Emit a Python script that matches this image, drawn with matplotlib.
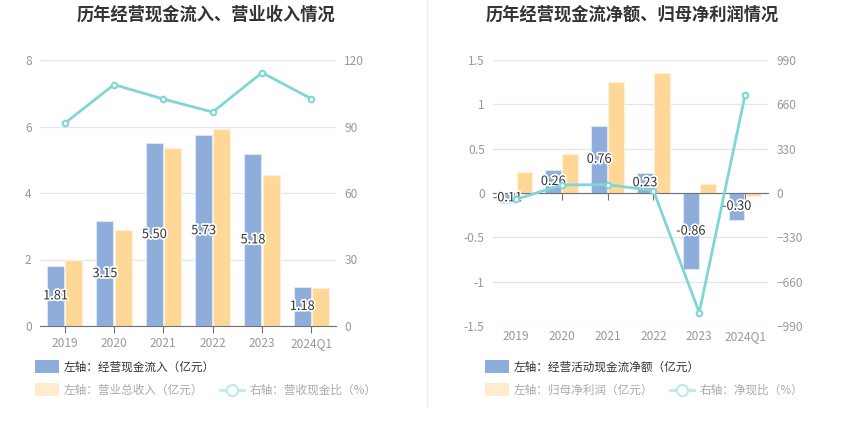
import matplotlib
matplotlib.use("Agg")
import matplotlib.pyplot as plt
import matplotlib.patheffects as pe
from matplotlib.patches import Rectangle
from matplotlib.lines import Line2D

plt.rcParams['font.family'] = ['Noto Sans CJK SC', 'DejaVu Sans']

categories = ["2019", "2020", "2021", "2022", "2023", "2024Q1"]

# Left chart
cash_inflow = [1.81, 3.15, 5.50, 5.73, 5.18, 1.18]
revenue = [1.98, 2.89, 5.36, 5.92, 4.54, 1.15]
cash_ratio = [91.4, 108.9, 102.4, 96.5, 114.3, 102.5]

# Right chart
net_cash = [-0.11, 0.26, 0.76, 0.23, -0.86, -0.30]
net_profit = [0.232, 0.44, 1.25, 1.35, 0.105, -0.038]
net_ratio = [-48, 60, 62, 18, -890, 730]

left_ticks = [0, 2, 4, 6, 8]
left_right_ticks = [0, 30, 60, 90, 120]
right_ticks = [-1.5, -1, -0.5, 0, 0.5, 1, 1.5]
right_tick_labels = ["-1.5", "-1", "-0.5", "0", "0.5", "1", "1.5"]
right_right_ticks = [-990, -660, -330, 0, 330, 660, 990]

titles = ["历年经营现金流入、营业收入情况", "历年经营现金流净额、归母净利润情况"]
legend_left = ["左轴：经营现金流入（亿元）", "左轴：营业总收入（亿元）", "右轴：营收现金比（%）"]
legend_right = ["左轴：经营活动现金流净额（亿元）", "左轴：归母净利润（亿元）", "右轴：净现比（%）"]

BLUE = "#8eaddb"
ORANGE = "#ffd898"
LINE = "#80d5d9"
GRID = "#e0e6f1"
AXIS = "#6e7079"
TICK = "#999999"

W, H = 850, 437
fig = plt.figure(figsize=(W / 100, H / 100), dpi=100)

def fx(px):
    return px / W

def fy(py):
    return 1 - py / H

ax1 = fig.add_axes([fx(40), fy(326), fx(296), (326 - 60) / H])
ax2 = fig.add_axes([fx(493), fy(326), fx(275), (326 - 60) / H])

bw = 0.34
gap = 0.03
label_fx = [pe.withStroke(linewidth=2.5, foreground="white")]

def style_axes(ax):
    for s in ["top", "right", "left"]:
        ax.spines[s].set_visible(False)
    ax.tick_params(axis="y", length=0, labelsize=8.6, labelcolor=TICK, pad=6)
    ax.grid(axis="y", color=GRID, linewidth=0.9)
    ax.set_axisbelow(True)

x = list(range(len(categories)))

# ---- left chart
style_axes(ax1)
xb = [i - bw / 2 - gap / 2 for i in x]
xo = [i + bw / 2 + gap / 2 for i in x]
ax1.bar(xb, cash_inflow, width=bw, color=BLUE, edgecolor="#dce6f5", linewidth=0.8, zorder=2)
ax1.bar(xo, revenue, width=bw, color=ORANGE, edgecolor="#fff0d6", linewidth=0.8, zorder=2)
for xi, v in zip(xb, cash_inflow):
    ax1.text(xi, v / 2, f"{v:.2f}", ha="center", va="center", fontsize=9.2, color="#333333",
             path_effects=label_fx, zorder=5)
ax1.set_ylim(0, 8)
ax1.set_yticks(left_ticks)
ax1.set_yticklabels([str(t) for t in left_ticks])
ax1.set_xlim(-0.5, len(categories) - 0.5)
ax1.set_xticks(x)
ax1.set_xticklabels(categories)
ax1.spines["bottom"].set_color(AXIS)
ax1.tick_params(axis="x", length=5, color=AXIS, labelsize=8.6, labelcolor=TICK, pad=3)
ax1r = ax1.twinx()
ax1r.plot(x, cash_ratio, color=LINE, linewidth=2, marker="o", markersize=4,
          markerfacecolor="white", markeredgecolor=LINE, markeredgewidth=1.5, zorder=4)
ax1r.set_ylim(0, 120)
ax1r.set_yticks(left_right_ticks)
for s in ["top", "right", "left", "bottom"]:
    ax1r.spines[s].set_visible(False)
ax1r.tick_params(axis="y", length=0, labelsize=8.6, labelcolor=TICK, pad=6)

# ---- right chart
style_axes(ax2)
ax2.bar(xb, net_cash, width=bw, color=BLUE, edgecolor="#dce6f5", linewidth=0.8, zorder=2)
ax2.bar(xo, net_profit, width=bw, color=ORANGE, edgecolor="#fff0d6", linewidth=0.8, zorder=2)
for xi, v in zip(xb, net_cash):
    ax2.text(xi, v / 2, f"{v:.2f}", ha="center", va="center", fontsize=9.2, color="#333333",
             path_effects=label_fx, zorder=5)
ax2.set_ylim(-1.5, 1.5)
ax2.set_yticks(right_ticks)
ax2.set_yticklabels(right_tick_labels)
ax2.set_xlim(-0.5, len(categories) - 0.5)
ax2.spines["bottom"].set_position(("data", 0))
ax2.spines["bottom"].set_color(AXIS)
ax2.set_xticks(x)
ax2.tick_params(axis="x", length=5, color=AXIS, labelbottom=False)
for i, c in zip(x, categories):
    ax2.annotate(c, xy=(i, 0), xycoords=ax2.get_xaxis_transform(), xytext=(0, -3),
                 textcoords="offset points", ha="center", va="top", fontsize=8.6, color=TICK)
ax2r = ax2.twinx()
ax2r.plot(x, net_ratio, color=LINE, linewidth=2, marker="o", markersize=4,
          markerfacecolor="white", markeredgecolor=LINE, markeredgewidth=1.5, zorder=4)
ax2r.set_ylim(-990, 990)
ax2r.set_yticks(right_right_ticks)
for s in ["top", "right", "left", "bottom"]:
    ax2r.spines[s].set_visible(False)
ax2r.tick_params(axis="y", length=0, labelsize=8.6, labelcolor=TICK, pad=6)
ax2r.set_zorder(ax2.get_zorder() + 1)
ax1r.set_zorder(ax1.get_zorder() + 1)

# titles
fig.text(fx(206), fy(15), titles[0], ha="center", va="center", fontsize=12.4,
         fontweight="bold", color="#333333")
fig.text(fx(632), fy(15), titles[1], ha="center", va="center", fontsize=12.4,
         fontweight="bold", color="#333333")

# separator
fig.add_artist(Line2D([fx(427), fx(427)], [fy(0), fy(407)], color="#eeeeee", linewidth=1))

# legends
def legend_block(x0, labels, line_x):
    # row 1
    fig.add_artist(Rectangle((fx(x0), fy(373)), fx(24), 13 / H, facecolor=BLUE,
                             edgecolor="none", transform=fig.transFigure))
    fig.text(fx(x0 + 29), fy(367), labels[0], ha="left", va="center", fontsize=8.4, color="#333333")
    # row 2
    fig.add_artist(Rectangle((fx(x0), fy(396)), fx(24), 13 / H, facecolor="#ffecce",
                             edgecolor="none", transform=fig.transFigure))
    fig.text(fx(x0 + 29), fy(390), labels[1], ha="left", va="center", fontsize=8.4, color="#aaaaaa")
    fig.add_artist(Line2D([fx(line_x), fx(line_x + 24)], [fy(390), fy(390)], color="#bfe9eb",
                          linewidth=2, transform=fig.transFigure))
    fig.add_artist(Line2D([fx(line_x + 12)], [fy(390)], marker="o", markersize=8,
                          markerfacecolor="white", markeredgecolor="#bfe9eb", markeredgewidth=1.5,
                          transform=fig.transFigure))
    fig.text(fx(line_x + 30), fy(390), labels[2], ha="left", va="center", fontsize=8.4, color="#aaaaaa")

legend_block(35, legend_left, 220)
legend_block(485, legend_right, 670)

fig.savefig("out.png", dpi=100)
